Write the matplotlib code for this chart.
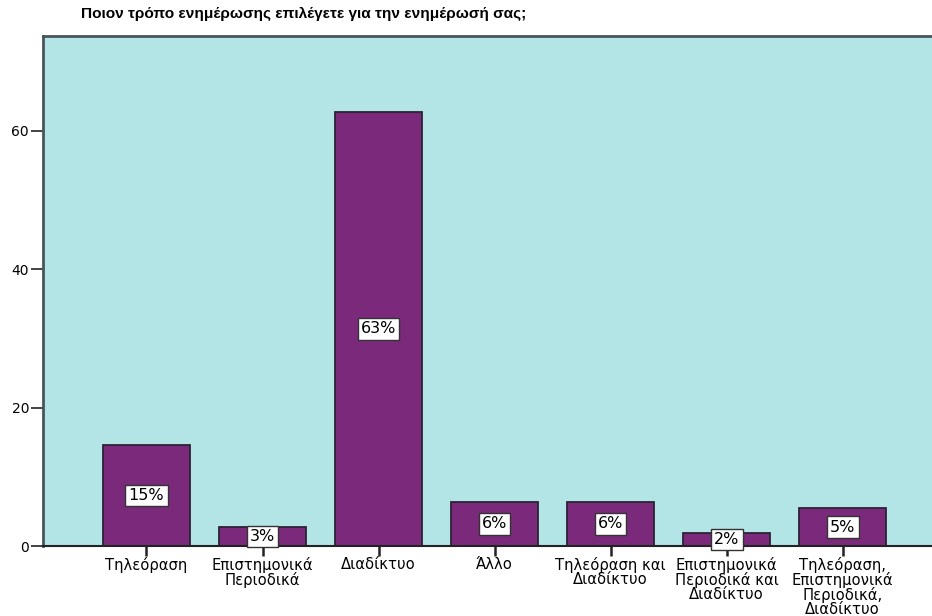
import matplotlib.pyplot as plt
import numpy as np

plt.rcParams['font.family'] = ['DejaVu Sans']

categories = ['Τηλεόραση', 'Επιστημονικά\nΠεριοδικά', 'Διαδίκτυο', 'Άλλο',
              'Τηλεόραση και\nΔιαδίκτυο', 'Επιστημονικά\nΠεριοδικά και\nΔιαδίκτυο',
              'Τηλεόραση,\nΕπιστημονικά\nΠεριοδικά,\nΔιαδίκτυο']
percent = [14.55, 2.73, 62.73, 6.36, 6.36, 1.82, 5.45]
yticks = [0, 20, 40, 60]

fig = plt.figure(figsize=(9.32, 6.16), dpi=100)
ax = fig.add_axes([43/932, 1 - 546/616, 889/932, 510/616])
ax.set_facecolor('#b3e5e6')

x = np.arange(len(categories))
bars = ax.bar(x, percent, width=0.75, color='#7b2a7b', edgecolor='#2b2335', linewidth=1.3, zorder=2)

# percentage boxes in the middle of each bar
for b, v in zip(bars, percent):
    ax.text(b.get_x() + b.get_width() / 2, v / 2, '%.0f%%' % v,
            ha='center', va='center', fontsize=11.5, zorder=3,
            bbox=dict(boxstyle='square,pad=0.2', facecolor='white', edgecolor='#333333', linewidth=1))

ax.set_xlim(-0.892, 6.77)
ax.set_ylim(0, 73.7)
ax.set_xticks(x)
ax.set_xticklabels(categories, fontsize=10.6, linespacing=0.92)
ax.set_yticks(yticks)
ax.tick_params(axis='y', labelsize=10, length=9, width=1.2, color='#222222', pad=1)
ax.tick_params(axis='x', length=7, width=1.8, color='#222222', pad=1)

for s in ['left', 'top']:
    ax.spines[s].set_color('#4a5559')
    ax.spines[s].set_linewidth(2)
ax.spines['right'].set_visible(False)
ax.spines['bottom'].set_color('#222222')
ax.spines['bottom'].set_linewidth(1.5)

fig.text(304/932, 1 - 14/616, 'Ποιον τρόπο ενημέρωσης επιλέγετε για την ενημέρωσή σας;',
         ha='center', va='center', fontsize=11.1, fontweight='bold',
         family=['Liberation Sans', 'DejaVu Sans'])

fig.savefig('out.png', dpi=100)
